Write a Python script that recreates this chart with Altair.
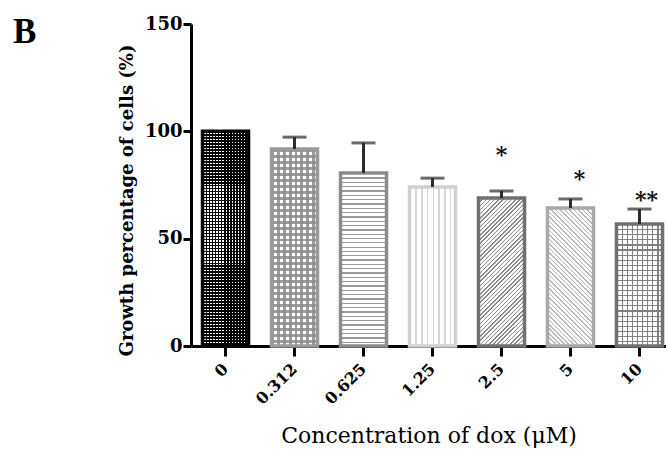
import math
import altair as alt
import pandas as pd

# ---------------- data ----------------
conc = ["0", "0.312", "0.625", "1.25", "2.5", "5", "10"]
growth = [100.0, 91.8, 80.6, 74.1, 68.9, 64.3, 56.8]
sem = [0.0, 5.5, 14.0, 4.1, 3.3, 4.2, 7.0]
sig = ["", "", "", "", "*", "*", "**"]
sig_y = [None, None, None, None, 90.8, 79.6, 69.9]
y_ticks = [0, 50, 100, 150]
panel = ["B"]

# ---------------- style ----------------
edge_colors = ["#000000", "#9a9a9a", "#8c8c8c", "#d0d0d0", "#707070", "#a8a8a8", "#707070"]
star_dx = [0, 0, 0, 0, 0, 9, 7]
FONT = "DejaVu Serif"
Y_MAX = 150
PLOT_W, PLOT_H = 475, 322
BAR_W = 46
PX = PLOT_H / Y_MAX

df = pd.DataFrame({
    "conc": conc,
    "growth": growth,
    "sem": sem,
    "upper": [g + s for g, s in zip(growth, sem)],
    "sig": sig,
    "sig_y": sig_y,
})


def stripes(n, color, bg, frac, x1, y1, x2, y2):
    stops = []
    for i in range(n):
        a, b, c = i / n, (i + frac) / n, (i + 1) / n
        stops += [
            {"offset": a, "color": color},
            {"offset": b, "color": color},
            {"offset": b, "color": bg},
            {"offset": c, "color": bg},
        ]
    return {"gradient": "linear", "x1": x1, "y1": y1, "x2": x2, "y2": y2, "stops": stops}


def horiz_lines(h, spacing, color, bg, frac):
    return stripes(max(1, round(h / spacing)), color, bg, frac, 0, 0, 0, 1)


def vert_lines(w, spacing, color, bg, frac):
    return stripes(max(1, round(w / spacing)), color, bg, frac, 0, 0, 1, 0)


def diag_up(w, h, spacing, color, bg, frac):  # "/" lines
    s = (w + h) / (w * w + h * h)
    n = max(1, round((w + h) / (math.sqrt(2) * spacing)))
    return stripes(n, color, bg, frac, 0, 0, s * w, s * h)


def diag_down(w, h, spacing, color, bg, frac):  # "\" lines
    s = (w + h) / (w * w + h * h)
    n = max(1, round((w + h) / (math.sqrt(2) * spacing)))
    return stripes(n, color, bg, frac, 0, 1, s * w, 1 - s * h)


T = "rgba(255,255,255,0)"
heights = [g * PX for g in growth]
fills = [
    [horiz_lines(heights[0], 3, "#000000", "#ffffff", 0.5),
     vert_lines(BAR_W, 3, "#000000", T, 0.5)],
    [horiz_lines(heights[1], 6, "rgba(140,140,140,0.85)", "#ffffff", 0.5),
     vert_lines(BAR_W, 6, "rgba(140,140,140,0.85)", T, 0.5)],
    [horiz_lines(heights[2], 4.3, "#9a9a9a", "#ffffff", 0.3)],
    [vert_lines(BAR_W, 5.5, "#d6d6d6", "#ffffff", 0.3)],
    [diag_up(BAR_W, heights[4], 3.0, "#8a8a8a", "#ffffff", 0.35)],
    [diag_down(BAR_W, heights[5], 3.2, "#b8b8b8", "#ffffff", 0.35)],
    [horiz_lines(heights[6], 5, "#808080", "#ffffff", 0.22),
     vert_lines(BAR_W, 5, "#808080", T, 0.22)],
]

x_enc = alt.X(
    "conc:N",
    sort=conc,
    scale=alt.Scale(paddingInner=0.333, paddingOuter=0.1087, align=0.767),
    axis=alt.Axis(
        title="Concentration of dox (μM)",
        labelAngle=-45,
        labelAlign="right",
        labelBaseline="middle",
        labelFont=FONT,
        labelFontSize=16,
        labelFontWeight="bold",
        labelColor="black",
        labelPadding=10,
        tickSize=10,
        tickWidth=3,
        tickColor="black",
        domainWidth=3,
        domainColor="black",
        titleFont=FONT,
        titleFontSize=22,
        titleFontWeight="normal",
        titleColor="black",
        titlePadding=18,
        grid=False,
    ),
)

Y_TITLE = "Growth percentage of cells (%)"


def y_enc(field):
    return alt.Y(
        field,
        title=Y_TITLE,
        scale=alt.Scale(domain=[0, Y_MAX], nice=False),
        axis=alt.Axis(
            values=y_ticks,
            title=Y_TITLE,
            labelFont=FONT,
            labelFontSize=18,
            labelFontWeight="bold",
            labelColor="black",
            labelPadding=1,
            tickSize=8,
            tickWidth=3,
            tickColor="black",
            domainWidth=3,
            domainColor="black",
            titleFont=FONT,
            titleFontSize=18,
            titleFontWeight="bold",
            titleColor="black",
            titlePadding=8,
            titleY=176,
            grid=False,
        ),
    )


base = alt.Chart(df)
layers = []
for i, c in enumerate(conc):
    for g in fills[i]:
        layers.append(
            base.transform_filter(alt.datum.conc == c)
            .mark_bar(fill=g, strokeWidth=0)
            .encode(x=x_enc, y=y_enc("growth:Q"))
        )

outline = base.mark_bar(fillOpacity=0, strokeWidth=3.5).encode(
    x=x_enc,
    y=y_enc("growth:Q"),
    stroke=alt.Stroke("conc:N", scale=alt.Scale(domain=conc, range=edge_colors), legend=None),
)

err = base.transform_filter("datum.sem > 0")
err_rule = err.mark_rule(strokeWidth=3, color="#2b2b2b").encode(
    x=x_enc, y=y_enc("growth:Q"), y2="upper:Q"
)
err_cap = err.mark_tick(size=24, thickness=3, color="#2b2b2b").encode(
    x=x_enc, y=y_enc("upper:Q")
)

star_layers = []
for i, c in enumerate(conc):
    if sig[i]:
        star_layers.append(
            base.transform_filter(alt.datum.conc == c)
            .mark_text(font=FONT, fontSize=22, fontWeight="bold", color="#111111",
                       baseline="middle", dy=4, dx=star_dx[i])
            .encode(x=x_enc, y=y_enc("sig_y:Q"), text="sig:N")
        )

panel_label = (
    alt.Chart(pd.DataFrame({"label": panel}))
    .mark_text(font="Liberation Serif", fontSize=35, fontWeight="bold", color="black",
               align="left", baseline="alphabetic")
    .encode(x=alt.value(-178), y=alt.value(19), text="label:N")
)

chart = (
    alt.layer(*layers, outline, err_rule, err_cap, *star_layers, panel_label)
    .properties(
        width=PLOT_W,
        height=PLOT_H,
        autosize=alt.AutoSizeParams(type="none"),
        padding={"left": 191, "top": 24, "right": 0, "bottom": 109},
        background="white",
    )
    .configure_view(stroke=None)
)

chart.save("out.html", embed_options={"renderer": "svg", "actions": False})
